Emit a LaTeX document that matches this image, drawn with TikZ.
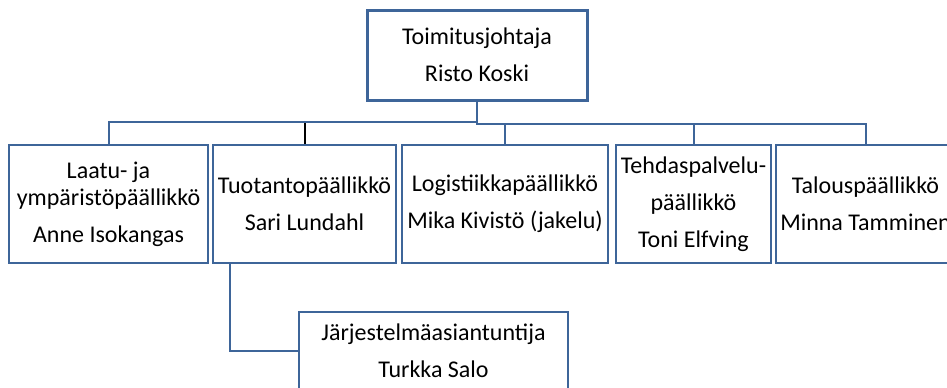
\documentclass[tikz,border=0pt]{standalone}
\usepackage{fontspec}
\setmainfont{Carlito}
\usepackage{tikz}
\usetikzlibrary{positioning}
\definecolor{orgblue}{RGB}{62,101,153}
\tikzset{box node/.style={rectangle,draw=orgblue,line width=1pt,align=center,inner sep=0pt,
            minimum height=59pt,font=\fontsize{12}{18.5}\selectfont},
         top node/.style={box node,line width=1.5pt,minimum width=110pt,minimum height=45pt},
         org line/.style={draw=orgblue,line width=1pt},
         elbow/.style={to path={-- ++(0,-#1) -| (\tikztotarget)}},
         elbow/.default=10pt,
         side elbow/.style={to path={|- (\tikztotarget)}},
            }

\begin{document}
\begin{tikzpicture}
    \clip (0,0) rectangle (473.5pt,193.5pt);
    \node[top node] (ceo) at (238.5pt,166pt) {Toimitusjohtaja\\Risto Koski};
    \node[box node,minimum width=99.5pt] (laatu) at (54.25pt,91.5pt) {Laatu- ja\\[-5pt]ympäristöpäällikkö\\Anne Isokangas};
    \node[box node,minimum width=91.5pt] (tuot) [right = 1.5pt of laatu] {Tuotantopäällikkö\\Sari Lundahl};
    \node[box node,minimum width=103pt] (logi) [right = 2pt of tuot] {Logistiikkapäällikkö\\Mika Kivistö (jakelu)};
    \node[box node,minimum width=77.5pt] (tehdas) [right = 3pt of logi] {Tehdaspalvelu-\\päällikkö\\Toni Elfving};
    \node[box node,minimum width=89.5pt] (talous) [right = 1.5pt of tehdas] {Talouspäällikkö\\Minna Tamminen};
    \node[box node,minimum width=134.5pt,minimum height=39pt] (jarj) at (216.75pt,18pt) {Järjestelmäasiantuntija\\Turkka Salo};

    \path[org line]
    (ceo.south) edge[elbow,draw=black] (tuot.north)
    (ceo.south) edge[elbow] (laatu.north)
    (ceo.south) edge[elbow=11pt] (logi.north)
    (ceo.south) edge[elbow=11pt] (tehdas.north)
    (ceo.south) edge[elbow=11pt] (talous.north)
    ([xshift=9pt]tuot.south west) edge[side elbow] (jarj.west)
    ;
\end{tikzpicture}
\end{document}
